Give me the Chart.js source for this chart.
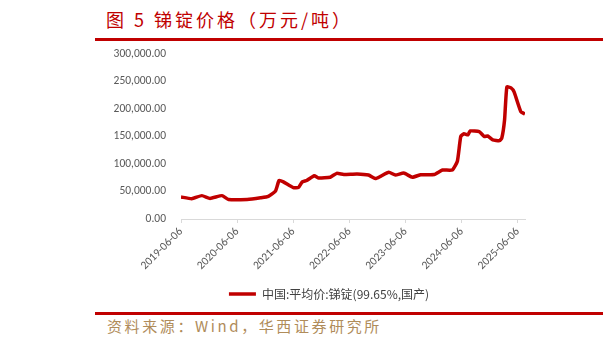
<!DOCTYPE html>
<html>
<head>
<meta charset="utf-8">
<script src="https://cdn.jsdelivr.net/npm/chart.js@4.4.1/dist/chart.umd.min.js"></script>
<style>
  html, body { margin: 0; padding: 0; background: #fff; }
  body { width: 603px; height: 345px; position: relative; overflow: hidden; }
  #title { position: absolute; left: 106px; top: 6px; font-family: "Noto Sans CJK SC", sans-serif; font-size: 18px; color: #c00000; letter-spacing: 3px; white-space: nowrap; }
  .rule { position: absolute; left: 95px; width: 508px; height: 3px; background: #c00000; }
  #source { position: absolute; left: 107px; top: 315px; font-family: "Noto Sans CJK SC", sans-serif; font-size: 15px; color: #b08c5a; letter-spacing: 2.6px; white-space: nowrap; }
  #wrap { position: absolute; left: 0; top: 0; width: 603px; height: 310px; }
</style>
</head>
<body>
<div id="title">图 5 锑锭价格（万元/吨）</div>
<div class="rule" style="top:38px"></div>
<div id="wrap"><canvas id="c"></canvas></div>
<div class="rule" style="top:312px"></div>
<div id="source">资料来源：Wind，华西证券研究所</div>
<script>
const seriesName = '中国:平均价:锑锭(99.65%,国产)';
const dates = ['2019-06-06','2019-08-15','2019-10-20','2019-12-12','2020-02-28','2020-04-10','2020-08-10','2020-11-05','2020-12-25','2021-02-10','2021-03-05','2021-04-02','2021-06-06','2021-07-10','2021-08-03','2021-09-01','2021-10-20','2021-11-18','2022-02-01','2022-03-15','2022-04-30','2022-07-25','2022-10-08','2022-11-22','2022-12-25','2023-02-17','2023-04-01','2023-05-25','2023-07-20','2023-09-13','2023-12-10','2024-02-01','2024-04-05','2024-05-08','2024-05-30','2024-06-20','2024-07-16','2024-07-30','2024-09-27','2024-10-30','2024-11-21','2024-12-24','2025-02-06','2025-02-21','2025-03-11','2025-03-26','2025-04-22','2025-05-12','2025-06-25','2025-07-22'];
const prices = [40000,37000,42500,37500,42500,35500,35500,38500,41000,51000,70000,67500,57000,57500,67500,70000,78500,74500,76000,83000,81000,82000,80000,73500,77500,85000,80000,83500,76000,80500,81000,89000,89000,105000,150000,155000,153000,160000,159000,150000,151000,144000,142500,147000,180000,240000,238500,231000,195000,191000];
const tickDates = ['2019-06-06','2020-06-06','2021-06-06','2022-06-06','2023-06-06','2024-06-06','2025-06-06'];
const tickLabels = ['2019-06-06','2020-06-06','2021-06-06','2022-06-06','2023-06-06','2024-06-06','2025-06-06'];
const yTicks = [0,50000,100000,150000,200000,250000,300000];

const base = Date.parse(dates[0]);
const toYears = d => (Date.parse(d) - base) / (365.25 * 86400000);
const points = dates.map((d, i) => ({ x: toYears(d), y: prices[i] }));
const tickPos = tickDates.map(toYears);
const axisFont = { family: 'Carlito, Calibri, "Liberation Sans", sans-serif', size: 11.5 };

new Chart(document.getElementById('c'), {
  type: 'line',
  data: { datasets: [{ label: seriesName, data: points, borderColor: '#c00000', backgroundColor: '#c00000', borderWidth: 3.5, pointRadius: 0, tension: 0.15, fill: false }] },
  options: {
    responsive: true, maintainAspectRatio: false, animation: false,
    layout: { padding: { left: 100, right: 45, top: 54, bottom: 0 } },
    plugins: {
      legend: {
        position: 'bottom',
        labels: { usePointStyle: true, pointStyle: 'line', pointStyleWidth: 27, boxHeight: 3, padding: 10, color: '#404040', font: { family: '"Noto Sans CJK SC", sans-serif', size: 12 } }
      },
      tooltip: { enabled: false }
    },
    scales: {
      x: {
        type: 'linear', min: 0, max: points[points.length - 1].x,
        afterBuildTicks: s => { s.ticks = tickPos.map(v => ({ value: v })); },
        afterFit: s => { s.height = 59; },
        ticks: { autoSkip: false, minRotation: 45, maxRotation: 45, color: '#595959', font: axisFont, padding: 2,
          callback: (v, i) => tickLabels[i] },
        grid: { drawOnChartArea: false, drawTicks: true, tickLength: 4, color: '#d9d9d9' },
        border: { color: '#d9d9d9' }
      },
      y: {
        min: 0, max: 300000,
        afterBuildTicks: s => { s.ticks = yTicks.map(v => ({ value: v })); },
        afterFit: s => { s.width = 81; },
        ticks: { color: '#595959', padding: 7, font: axisFont,
          callback: v => v.toLocaleString('en-US', { minimumFractionDigits: 2, maximumFractionDigits: 2 }) },
        grid: { display: false },
        border: { display: false }
      },
      yRight: {
        type: 'linear', position: 'right', min: 0, max: 1,
        afterFit: s => { s.width = 33; },
        ticks: { display: false },
        grid: { display: false },
        border: { display: false }
      }
    }
  }
});
</script>
</body>
</html>
